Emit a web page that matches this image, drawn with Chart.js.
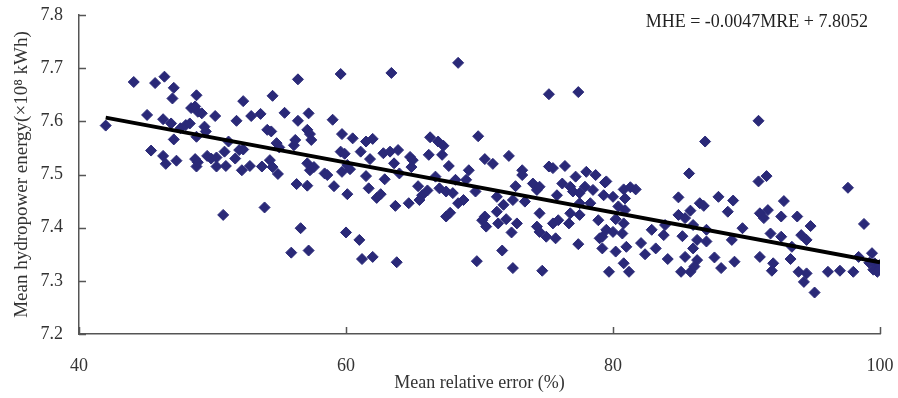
<!DOCTYPE html>
<html>
<head>
<meta charset="utf-8">
<script src="https://cdn.jsdelivr.net/npm/chart.js@4.4.1/dist/chart.umd.min.js"></script>
<style>
  html, body { margin: 0; padding: 0; background: #fff; }
  #wrap { width: 898px; height: 398px; }
</style>
</head>
<body>
<div id="wrap"><canvas id="scatterChart" width="898" height="398"></canvas></div>
<script>
// Mean relative error (%) of each sample
const mreValues = [
   42.0,44.1,45.7,46.4,47.1,47.0,48.8,45.1,46.3,46.9,
   47.1,47.6,48.0,48.3,48.4,48.7,48.9,49.2,48.8,49.4,
   49.5,50.2,45.4,46.3,46.5,47.3,48.7,48.8,48.9,49.6,
   49.9,50.3,50.3,50.9,51.0,50.8,51.2,51.8,52.3,51.7,
   52.0,52.3,52.2,52.8,52.9,53.6,54.5,53.7,53.9,54.1,
   54.4,54.3,54.5,54.9,54.8,55.0,55.4,56.1,56.2,56.4,
   56.4,56.3,56.6,55.9,57.2,57.1,57.2,57.1,57.3,57.4,
   57.1,57.3,57.6,58.4,58.6,59.1,59.0,59.6,59.7,59.6,
   59.9,60.1,59.7,60.1,60.0,
   63.4,68.4,75.2,77.4,60.5,61.5,62.0,61.1,61.8,62.8,
   63.3,63.9,63.6,64.8,65.0,66.2,66.3,66.9,67.3,67.2,
   67.7,69.2,69.9,70.4,71.0,72.2,60.3,61.5,62.9,61.7,
   62.3,62.6,63.7,64.7,64.0,64.9,65.4,65.7,65.5,66.1,
   66.7,67.0,67.5,68.0,68.2,68.4,68.8,69.0,67.5,67.8,
   69.7,70.4,70.2,70.5,71.3,71.3,71.8,71.4,72.0,72.5,
   72.7,72.8,72.4,73.2,73.2,73.4,74.0,74.3,74.5,74.5,
   74.3,74.5,75.0,75.7,75.5,75.9,75.2,75.5,76.4,76.2,
   76.8,77.2,77.0,77.5,77.9,78.0,78.7,78.5,79.4,79.3,
   77.5,78.3,75.8,76.8,77.5,78.9,76.7,77.4,79.0,79.5,
   61.0,61.2,62.0,63.8,69.8,71.7,72.5,74.7,79.7,
   90.9,86.9,85.7,90.9,91.5,97.6,98.8,79.5,80.0,80.8,
   81.3,81.7,80.9,80.4,80.9,80.2,80.8,80.0,80.7,79.2,
   79.2,80.2,81.0,80.8,81.2,82.1,82.4,82.9,83.2,83.8,
   83.9,84.1,84.9,84.9,85.4,85.2,85.8,86.0,86.5,86.8,
   87.0,87.0,86.3,86.0,85.4,85.1,85.8,86.3,86.1,87.6,
   88.1,87.9,88.6,89.0,88.9,89.1,89.7,91.0,91.3,91.6,
   91.8,91.0,92.0,91.9,92.6,92.8,92.6,93.3,93.8,94.1,
   94.5,94.8,93.4,93.9,94.3,94.5,95.1,96.1,97.0,98.0,
   98.4,99.4,99.6,99.5,100.0,100.0,99.2,99.8
];

// Mean hydropower energy (x10^8 kWh), same order as mreValues
const mheValues = [
   7.592,7.674,7.672,7.684,7.663,7.643,7.649,7.612,7.604,7.596,
   7.566,7.587,7.593,7.596,7.625,7.628,7.618,7.615,7.571,7.590,
   7.581,7.610,7.545,7.535,7.520,7.526,7.529,7.515,7.523,7.535,
   7.530,7.532,7.515,7.543,7.516,7.424,7.562,7.601,7.638,7.530,
   7.546,7.547,7.508,7.516,7.610,7.614,7.648,7.515,7.438,7.584,
   7.581,7.527,7.514,7.501,7.559,7.551,7.616,7.555,7.565,7.679,
   7.601,7.482,7.399,7.353,7.357,7.479,7.615,7.584,7.576,7.565,
   7.521,7.508,7.514,7.502,7.499,7.478,7.603,7.689,7.576,7.543,
   7.539,7.518,7.505,7.463,7.391,
   7.691,7.710,7.651,7.655,7.568,7.562,7.567,7.543,7.529,7.540,
   7.543,7.546,7.521,7.533,7.527,7.537,7.570,7.562,7.554,7.537,
   7.516,7.508,7.572,7.529,7.520,7.535,7.510,7.497,7.491,7.474,
   7.456,7.463,7.441,7.446,7.502,7.514,7.478,7.461,7.452,7.470,
   7.496,7.474,7.468,7.465,7.490,7.446,7.452,7.490,7.421,7.428,
   7.468,7.421,7.414,7.402,7.458,7.430,7.443,7.408,7.416,7.452,
   7.478,7.408,7.391,7.508,7.499,7.449,7.483,7.471,7.477,7.427,
   7.402,7.392,7.383,7.380,7.408,7.414,7.515,7.512,7.516,7.483,
   7.477,7.496,7.468,7.465,7.477,7.505,7.499,7.471,7.485,7.461,
   7.446,7.446,7.461,7.427,7.424,7.414,7.408,7.369,7.380,7.396,
   7.377,7.341,7.345,7.335,7.337,7.357,7.324,7.319,7.317,
   7.601,7.562,7.502,7.487,7.497,7.475,7.407,7.487,7.458,7.472,
   7.476,7.472,7.455,7.440,7.433,7.416,7.408,7.392,7.389,7.383,
   7.361,7.355,7.364,7.333,7.317,7.371,7.350,7.396,7.361,7.386,
   7.405,7.341,7.457,7.424,7.418,7.384,7.432,7.405,7.446,7.441,
   7.396,7.374,7.377,7.361,7.345,7.317,7.317,7.339,7.327,7.344,
   7.324,7.458,7.430,7.451,7.377,7.336,7.399,7.427,7.418,7.433,
   7.389,7.345,7.333,7.319,7.421,7.450,7.383,7.341,7.421,7.386,
   7.377,7.403,7.364,7.317,7.298,7.314,7.278,7.317,7.319,7.317,
   7.345,7.352,7.333,7.321,7.324,7.330,7.334,7.317
];

// fitted line end points
const trendX = [42, 100];
const trendY = [7.607, 7.335];

const xTicks = [40, 60, 80, 100];
const yTicks = [7.2, 7.3, 7.4, 7.5, 7.6, 7.7, 7.8];
const equationText = 'MHE = -0.0047MRE + 7.8052';

const serif = "'Liberation Serif', 'Times New Roman', serif";
const axisColor = '#555';

const scatterPoints = mreValues.map((x, i) => ({ x: x, y: mheValues[i] }));
const trendPoints = trendX.map((x, i) => ({ x: x, y: trendY[i] }));

// small tick marks pointing into the plot, plus the equation text
const innerTicks = {
   id: 'innerTicks',
   beforeDatasetsDraw(chart) {
      const ctx = chart.ctx;
      const xs = chart.scales.x;
      const ys = chart.scales.y;
      const area = chart.chartArea;
      ctx.save();
      ctx.strokeStyle = axisColor;
      ctx.lineWidth = 1.5;
      ctx.beginPath();
      yTicks.forEach(v => {
         const py = Math.round(ys.getPixelForValue(v)) + 0.5;
         ctx.moveTo(area.left, py);
         ctx.lineTo(area.left + 7, py);
      });
      xTicks.forEach(v => {
         const px = Math.round(xs.getPixelForValue(v)) + 0.5;
         ctx.moveTo(px, area.bottom);
         ctx.lineTo(px, area.bottom - 7);
      });
      ctx.stroke();
      ctx.restore();
   },
   afterDraw(chart) {
      const ctx = chart.ctx;
      ctx.save();
      ctx.font = "18px " + serif;
      ctx.fillStyle = '#222';
      ctx.textAlign = 'right';
      ctx.textBaseline = 'middle';
      ctx.fillText(equationText, 868, 22);
      ctx.restore();
   }
};

new Chart(document.getElementById('scatterChart'), {
   type: 'scatter',
   data: {
      datasets: [
         {
            label: 'Fit',
            type: 'line',
            data: trendPoints,
            borderColor: '#000',
            borderWidth: 4,
            pointRadius: 0,
            fill: false,
            showLine: true
         },
         {
            label: 'Samples',
            data: scatterPoints,
            pointStyle: 'rectRot',
            pointRadius: 5.5,
            pointBackgroundColor: '#2a2978',
            pointBorderColor: '#2a2978',
            pointBorderWidth: 1
         }
      ]
   },
   options: {
      responsive: false,
      animation: false,
      layout: { padding: { top: 15, right: 18, left: 0, bottom: 0 } },
      scales: {
         x: {
            type: 'linear',
            min: 40,
            max: 100,
            afterBuildTicks: s => { s.ticks = xTicks.map(v => ({ value: v })); },
            afterFit: s => { s.height = 64; s.paddingLeft = 0; s.paddingRight = 0; },
            ticks: { color: '#333', padding: 21, font: { family: serif, size: 18 } },
            grid: { drawOnChartArea: false, drawTicks: false },
            border: { display: true, color: axisColor, width: 1.5 },
            title: {
               display: true,
               text: 'Mean relative error (%)',
               color: '#333',
               font: { family: serif, size: 18 },
               padding: { top: 0, bottom: 4 }
            }
         },
         y: {
            type: 'linear',
            min: 7.2,
            max: 7.8,
            afterBuildTicks: s => { s.ticks = yTicks.map(v => ({ value: v })); },
            afterFit: s => { s.width = 79; s.paddingTop = 0; s.paddingBottom = 0; },
            ticks: { color: '#333', padding: 16, font: { family: serif, size: 18 },
                     callback: v => v.toFixed(1) },
            grid: { drawOnChartArea: false, drawTicks: false },
            border: { display: true, color: axisColor, width: 1.5 },
            title: {
               display: true,
               text: 'Mean hydropower energy(×10⁸ kWh)',
               color: '#333',
               font: { family: serif, size: 19 },
               padding: { top: 11, bottom: 0 }
            }
         }
      },
      plugins: {
         legend: { display: false },
         tooltip: { enabled: false }
      }
   },
   plugins: [innerTicks]
});
</script>
</body>
</html>
